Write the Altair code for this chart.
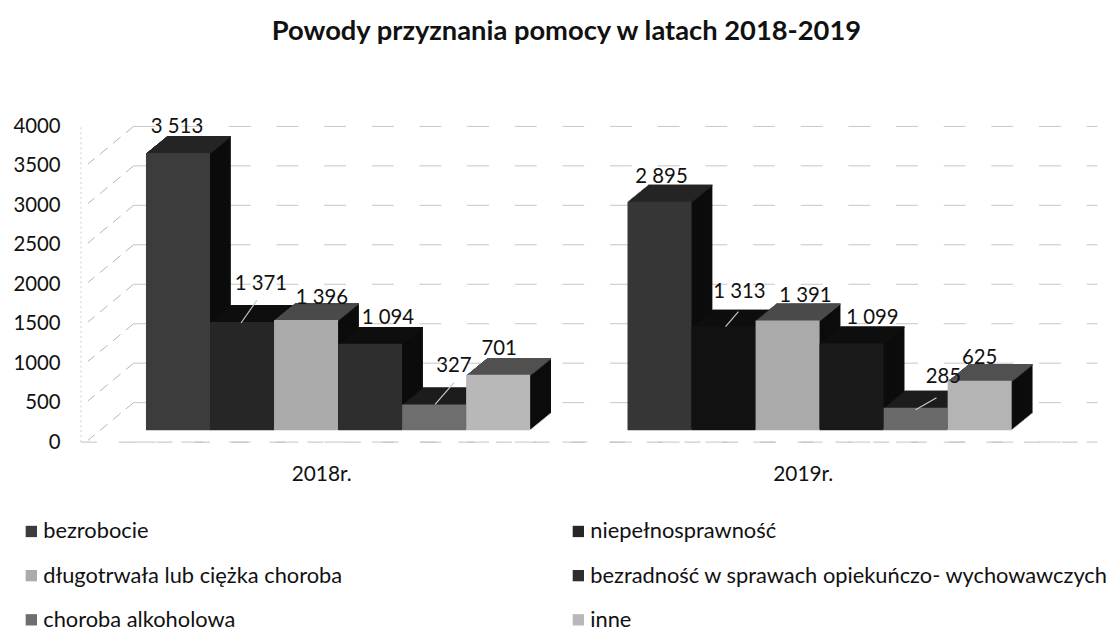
import altair as alt
import pandas as pd

title = "Powody przyznania pomocy w latach 2018-2019"
years = ["2018r.", "2019r."]
series = ["bezrobocie", "niepełnosprawność", "długotrwała lub ciężka choroba",
          "bezradność w sprawach opiekuńczo- wychowawczych", "choroba alkoholowa", "inne"]
values_2018 = [3513, 1371, 1396, 1094, 327, 701]
values_2019 = [2895, 1313, 1391, 1099, 285, 625]
labels_2018 = ["3 513", "1 371", "1 396", "1 094", "327", "701"]
labels_2019 = ["2 895", "1 313", "1 391", "1 099", "285", "625"]
ticks = [0, 500, 1000, 1500, 2000, 2500, 3000, 3500, 4000]
colors = ["#3c3c3c", "#262626", "#ababab", "#2e2e2e", "#6e6e6e", "#b8b8b8"]
colors_2019 = ["#363636", "#121212", "#aaaaaa", "#1a1a1a", "#6a6a6a", "#b4b4b4"]
top_colors = ["#242424", "#0e0e0e", "#4a4a4a", "#0e0e0e", "#1c1c1c", "#505050"]

# layout of the clusters, in bar widths along the x scale
group_start = [0.767, 8.287]
x_max = 15.039

# label nudges in pixels, relative to the centre of the top of the bar
nudge_x = [-1, 19, 16, 18, 20, 1, 2, 16, 18, 21, 28, 0]
nudge_y = [-38, -50, -34, -38, -51, -38, -37, -47, -37, -38, -43, -35]
# thin leader lines of four labels: bar index and pixel nudges (x1, y1, x2, y2)
leaders = {1: (-1, -11, 15, -34), 4: (1, -12, 20, -34), 7: (2, -12, 15, -27), 10: (0, -10, 21, -22)}

FONT = "Lato"
rows = []
for g, (y, vals, labs) in enumerate(((years[0], values_2018, labels_2018), (years[1], values_2019, labels_2019))):
    for k, (s, v, l) in enumerate(zip(series, vals, labs)):
        rows.append({"year": y, "series": s, "top": s + " (top)", "shade": s if g == 0 else s + " (2019)",
                     "value": v, "base": 0, "label": l,
                     "x0": group_start[g] + k, "x1": group_start[g] + k + 1, "xc": group_start[g] + k + 0.5})
df = pd.DataFrame(rows)

x_scale = alt.Scale(domain=[0, x_max], nice=False, zero=False)
x_axis = alt.Axis(values=[g + 3 for g in group_start],
                  labelExpr=f"datum.value < 6 ? '{years[0]}' : '{years[1]}'",
                  grid=False, labelAngle=0, labelOffset=-17, domain=False, ticks=False, labelPadding=22,
                  labelFont=FONT, labelFontSize=21, labelColor="#111111", labelFlush=False, labelOverlap=False, title=None)
y_scale = alt.Scale(domain=[0, 4000], nice=False)
y_axis = alt.Axis(values=ticks, format="d", domain=False, ticks=False, grid=False, labelPadding=37,
                  labelFont=FONT, labelFontSize=20.5, labelColor="#111111", title=None)
X0 = alt.X("x0:Q", scale=x_scale, axis=x_axis)
X1 = alt.X2("x1:Q")
Y = alt.Y("value:Q", scale=y_scale, axis=y_axis, stack=None)
Y0 = alt.Y2("base:Q")
TICK_Y = alt.Y("tick:Q", scale=y_scale, axis=y_axis)

color_scale = alt.Scale(
    domain=series + [s + " (top)" for s in series] + [s + " (2019)" for s in series],
    range=colors + top_colors + colors_2019)
# the legend fills its columns first, so this order reads row by row on the page
legend_order = [series[0], series[2], series[4], series[1], series[3], series[5]]
legend = alt.Legend(orient="none", legendX=-77, legendY=397, columns=2, columnPadding=226, values=legend_order,
                    rowPadding=22.5, symbolType="square", symbolSize=130, symbolStrokeWidth=0, title=None,
                    labelOffset=1, labelFont=FONT, labelFontSize=22, labelColor="#111111", labelLimit=800)

grid_df = pd.DataFrame({"tick": ticks})
grid = alt.Chart(grid_df).mark_rule(color="#c6c6c6", strokeWidth=1, strokeDash=[22, 26]).encode(
    y=TICK_Y, x=alt.value(37), x2=alt.value(1008))
diag = alt.Chart(grid_df[grid_df.tick > 0]).mark_rule(
    color="#b5b5b5", strokeWidth=1, strokeDash=[10, 7], y2Offset=38).encode(
    y=TICK_Y, y2=alt.Y2("tick:Q"), x=alt.value(37), x2=alt.value(-9))
wall = alt.Chart(pd.DataFrame({"tick": [0], "b": [4000]})).mark_rule(
    color="#cfcfcf", strokeWidth=1, strokeDash=[2, 3]).encode(
    y=TICK_Y, y2=alt.Y2("b:Q"), x=alt.value(-16))
floor = alt.Chart(pd.DataFrame({"tick": [0]})).mark_rule(
    color="#c0c0c0", strokeWidth=1, strokeDash=[16, 22]).encode(
    y=TICK_Y, x=alt.value(-16), x2=alt.value(1008))

DEPTH = 17
sides = []
tops = []
for i in range(DEPTH, 0, -1):
    dx, dy = i * 21 / DEPTH, -12 - i
    sides.append(alt.Chart(df).mark_bar(color="#0c0c0c", xOffset=dx, x2Offset=dx, yOffset=dy, y2Offset=dy).encode(
        x=X0, x2=X1, y=Y, y2=Y0))
for i in range(DEPTH, 0, -1):
    dx, dy = i * 21 / DEPTH, -12 - i
    tops.append(alt.Chart(df).mark_bar(xOffset=dx, x2Offset=dx, yOffset=dy, y2Offset=dy + 1.5).encode(
        x=X0, x2=X1, y=Y, y2=alt.Y2("value:Q"),
        color=alt.Color("top:N", scale=color_scale, legend=legend)))

front = alt.Chart(df).mark_bar(yOffset=-12, y2Offset=-12).encode(
    x=X0, x2=X1, y=Y, y2=Y0,
    color=alt.Color("shade:N", scale=color_scale, legend=legend),
)

lines = []
for k, (x1, y1, x2, y2) in leaders.items():
    lines.append(alt.Chart(df.iloc[[k]]).mark_rule(
        color="#c8c8c8", strokeWidth=1.2, xOffset=x1, yOffset=y1, x2Offset=x2, y2Offset=y2).encode(
        x=alt.X("xc:Q", scale=x_scale, axis=x_axis), x2=alt.X2("xc:Q"), y=Y, y2=alt.Y2("value:Q")))

texts = []
for k in range(len(df)):
    texts.append(alt.Chart(df.iloc[[k]]).mark_text(
        font=FONT, fontSize=20.5, color="#111111", baseline="middle", align="center",
        dx=nudge_x[k], dy=nudge_y[k]).encode(
        x=alt.X("xc:Q", scale=x_scale, axis=x_axis), y=Y, text="label:N"))

chart = alt.layer(grid, diag, wall, floor, *sides, *tops, front, *lines, *texts).properties(
    width=970, height=318,
    padding={"left": 89.5, "top": 117, "right": 48.5, "bottom": 188},
    autosize=alt.AutoSizeParams(type="none"),
    title=alt.TitleParams(title, font=FONT, fontSize=27.5, fontWeight="bold", color="#111111",
                          anchor="middle", dx=-12, offset=72),
).configure_view(stroke=None)

chart.save("out.html", embed_options={"renderer": "svg", "actions": False})
